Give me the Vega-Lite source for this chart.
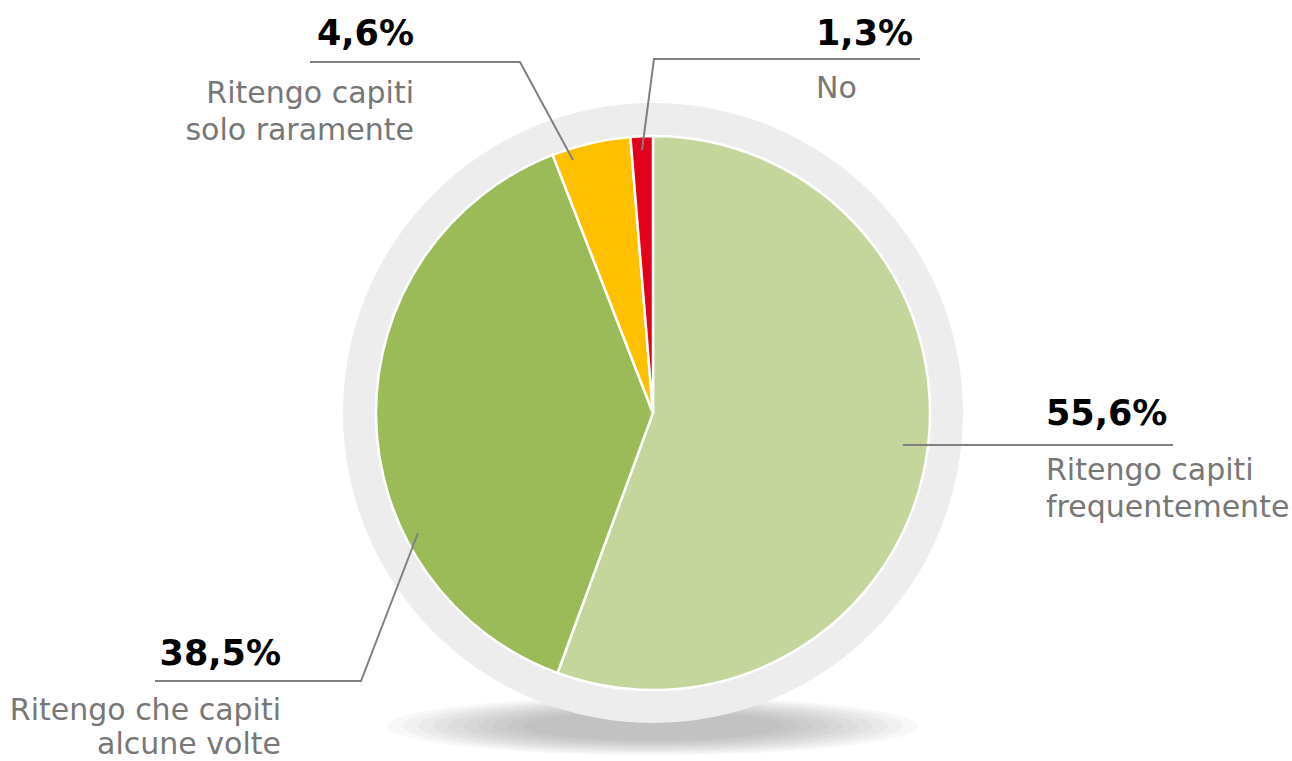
{
  "$schema": "https://vega.github.io/schema/vega-lite/v6.json",
  "width": 1292,
  "height": 761,
  "padding": 0,
  "autosize": "none",
  "background": "#ffffff",
  "config": {"view": {"stroke": null}, "axis": null},
  "datasets": {
    "slices": [
      {"cat": "Ritengo capiti frequentemente", "value": 55.6, "k": 1},
      {"cat": "Ritengo che capiti alcune volte", "value": 38.5, "k": 2},
      {"cat": "Ritengo capiti solo raramente", "value": 4.6, "k": 3},
      {"cat": "No", "value": 1.3, "k": 4}
    ],
    "leaders": [
      {"cat": "A", "step": 1, "u": 0.9025, "v": -0.1155},
      {"cat": "A", "step": 2, "u": 1.8773, "v": -0.1155},
      {"cat": "B", "step": 1, "u": -0.8484, "v": -0.4332},
      {"cat": "B", "step": 2, "u": -1.0542, "v": -0.9675},
      {"cat": "B", "step": 3, "u": -1.7978, "v": -0.9675},
      {"cat": "C", "step": 1, "u": -0.2888, "v": 0.9134},
      {"cat": "C", "step": 2, "u": -0.4801, "v": 1.2671},
      {"cat": "C", "step": 3, "u": -1.2383, "v": 1.2671},
      {"cat": "D", "step": 1, "u": -0.0397, "v": 0.9495},
      {"cat": "D", "step": 2, "u": 0.0036, "v": 1.2780},
      {"cat": "D", "step": 3, "u": 0.9639, "v": 1.2780}
    ],
    "labels": [
      {"side": "L", "pct": "55,6%", "text": "Ritengo capiti\nfrequentemente", "u": 1.4188, "vp": -0.0433, "vt": -0.2419},
      {"side": "B", "pct": "38,5%", "text": "Ritengo che capiti\nalcune volte", "u": -1.3430, "vp": -0.9097, "vt": -1.1083},
      {"side": "R", "pct": "4,6%", "text": "Ritengo capiti\nsolo raramente", "u": -0.8628, "vp": 1.3285, "vt": 1.1191},
      {"side": "L", "pct": "1,3%", "text": "No", "u": 0.5884, "vp": 1.3285, "vt": 1.1372}
    ],
    "one": [{"v": 1}]
  },
  "layer": [
    {
      "data": {"name": "one"},
      "mark": {"type": "point", "shape": "M-1,0A1,0.11,0,1,0,1,0A1,0.11,0,1,0,-1,0Z", "filled": true, "color": "#666666", "opacity": 0.045, "size": 280900},
      "encoding": {
        "x": {"datum": 0, "type": "quantitative", "scale": {"domain": [-2.3574, 2.3069], "nice": false, "zero": false}, "axis": null},
        "y": {"datum": -1.1300, "type": "quantitative", "scale": {"domain": [-1.2563, 1.4910], "nice": false, "zero": false}, "axis": null}
      }
    },
    {
      "data": {"name": "one"},
      "mark": {"type": "point", "shape": "M-1,0A1,0.11,0,1,0,1,0A1,0.11,0,1,0,-1,0Z", "filled": true, "color": "#666666", "opacity": 0.045, "size": 250000},
      "encoding": {"x": {"datum": 0, "type": "quantitative"}, "y": {"datum": -1.1300, "type": "quantitative"}}
    },
    {
      "data": {"name": "one"},
      "mark": {"type": "point", "shape": "M-1,0A1,0.11,0,1,0,1,0A1,0.11,0,1,0,-1,0Z", "filled": true, "color": "#666666", "opacity": 0.045, "size": 220900},
      "encoding": {"x": {"datum": 0, "type": "quantitative"}, "y": {"datum": -1.1300, "type": "quantitative"}}
    },
    {
      "data": {"name": "one"},
      "mark": {"type": "point", "shape": "M-1,0A1,0.11,0,1,0,1,0A1,0.11,0,1,0,-1,0Z", "filled": true, "color": "#666666", "opacity": 0.045, "size": 193600},
      "encoding": {"x": {"datum": 0, "type": "quantitative"}, "y": {"datum": -1.1300, "type": "quantitative"}}
    },
    {
      "data": {"name": "one"},
      "mark": {"type": "point", "shape": "M-1,0A1,0.11,0,1,0,1,0A1,0.11,0,1,0,-1,0Z", "filled": true, "color": "#666666", "opacity": 0.045, "size": 168100},
      "encoding": {"x": {"datum": 0, "type": "quantitative"}, "y": {"datum": -1.1300, "type": "quantitative"}}
    },
    {
      "data": {"name": "one"},
      "mark": {"type": "point", "shape": "M-1,0A1,0.11,0,1,0,1,0A1,0.11,0,1,0,-1,0Z", "filled": true, "color": "#666666", "opacity": 0.045, "size": 144400},
      "encoding": {"x": {"datum": 0, "type": "quantitative"}, "y": {"datum": -1.1300, "type": "quantitative"}}
    },
    {
      "data": {"name": "one"},
      "mark": {"type": "point", "shape": "M-1,0A1,0.11,0,1,0,1,0A1,0.11,0,1,0,-1,0Z", "filled": true, "color": "#666666", "opacity": 0.045, "size": 122500},
      "encoding": {"x": {"datum": 0, "type": "quantitative"}, "y": {"datum": -1.1300, "type": "quantitative"}}
    },
    {
      "data": {"name": "one"},
      "mark": {"type": "point", "shape": "M-1,0A1,0.11,0,1,0,1,0A1,0.11,0,1,0,-1,0Z", "filled": true, "color": "#666666", "opacity": 0.045, "size": 102400},
      "encoding": {"x": {"datum": 0, "type": "quantitative"}, "y": {"datum": -1.1300, "type": "quantitative"}}
    },
    {
      "data": {"name": "one"},
      "mark": {"type": "point", "shape": "M-1,0A1,0.11,0,1,0,1,0A1,0.11,0,1,0,-1,0Z", "filled": true, "color": "#666666", "opacity": 0.045, "size": 84100},
      "encoding": {"x": {"datum": 0, "type": "quantitative"}, "y": {"datum": -1.1300, "type": "quantitative"}}
    },
    {
      "data": {"name": "one"},
      "mark": {"type": "point", "shape": "M-1,0A1,0.11,0,1,0,1,0A1,0.11,0,1,0,-1,0Z", "filled": true, "color": "#666666", "opacity": 0.045, "size": 67600},
      "encoding": {"x": {"datum": 0, "type": "quantitative"}, "y": {"datum": -1.1300, "type": "quantitative"}}
    },
    {
      "data": {"name": "one"},
      "mark": {"type": "arc", "radius": 310, "theta": 0, "theta2": 6.2832, "fill": "#ededed", "stroke": null},
      "encoding": {
        "x": {"datum": 0, "type": "quantitative"},
        "y": {"datum": 0, "type": "quantitative"}
      }
    },
    {
      "data": {"name": "slices"},
      "mark": {"type": "arc", "radius": 277, "stroke": "#ffffff", "strokeWidth": 2.5},
      "encoding": {
        "theta": {"field": "value", "type": "quantitative", "stack": true},
        "order": {"field": "k", "type": "quantitative"},
        "color": {
          "field": "cat",
          "type": "nominal",
          "scale": {
            "domain": ["Ritengo capiti frequentemente", "Ritengo che capiti alcune volte", "Ritengo capiti solo raramente", "No"],
            "range": ["#c4d69b", "#9bbb59", "#ffc000", "#e2001a"]
          },
          "legend": null
        },
        "x": {"datum": 0, "type": "quantitative"},
        "y": {"datum": 0, "type": "quantitative"}
      }
    },
    {
      "data": {"name": "leaders"},
      "mark": {"type": "line", "color": "#808080", "strokeWidth": 2},
      "encoding": {
        "x": {"field": "u", "type": "quantitative"},
        "y": {"field": "v", "type": "quantitative"},
        "detail": {"field": "cat", "type": "nominal"},
        "order": {"field": "step", "type": "quantitative"}
      }
    },
    {
      "data": {"name": "labels"},
      "transform": [{"filter": "datum.side == 'L'"}],
      "mark": {"type": "text", "align": "left", "baseline": "alphabetic", "font": "DejaVu Sans", "fontWeight": "bold", "fontSize": 35, "color": "#000000"},
      "encoding": {
        "x": {"field": "u", "type": "quantitative"},
        "y": {"field": "vp", "type": "quantitative"},
        "text": {"field": "pct", "type": "nominal"}
      }
    },
    {
      "data": {"name": "labels"},
      "transform": [{"filter": "datum.side != 'L'"}],
      "mark": {"type": "text", "align": "right", "baseline": "alphabetic", "font": "DejaVu Sans", "fontWeight": "bold", "fontSize": 35, "color": "#000000"},
      "encoding": {
        "x": {"field": "u", "type": "quantitative"},
        "y": {"field": "vp", "type": "quantitative"},
        "text": {"field": "pct", "type": "nominal"}
      }
    },
    {
      "data": {"name": "labels"},
      "transform": [{"filter": "datum.side == 'L'"}],
      "mark": {"type": "text", "align": "left", "baseline": "alphabetic", "font": "DejaVu Sans", "fontSize": 30, "lineHeight": 37, "lineBreak": "\n", "color": "#777777"},
      "encoding": {
        "x": {"field": "u", "type": "quantitative"},
        "y": {"field": "vt", "type": "quantitative"},
        "text": {"field": "text", "type": "nominal"}
      }
    },
    {
      "data": {"name": "labels"},
      "transform": [{"filter": "datum.side == 'R'"}],
      "mark": {"type": "text", "align": "right", "baseline": "alphabetic", "font": "DejaVu Sans", "fontSize": 30, "lineHeight": 37, "lineBreak": "\n", "color": "#777777"},
      "encoding": {
        "x": {"field": "u", "type": "quantitative"},
        "y": {"field": "vt", "type": "quantitative"},
        "text": {"field": "text", "type": "nominal"}
      }
    },
    {
      "data": {"name": "labels"},
      "transform": [{"filter": "datum.side == 'B'"}],
      "mark": {"type": "text", "align": "right", "baseline": "alphabetic", "font": "DejaVu Sans", "fontSize": 30, "lineHeight": 34, "lineBreak": "\n", "color": "#777777"},
      "encoding": {
        "x": {"field": "u", "type": "quantitative"},
        "y": {"field": "vt", "type": "quantitative"},
        "text": {"field": "text", "type": "nominal"}
      }
    }
  ]
}
